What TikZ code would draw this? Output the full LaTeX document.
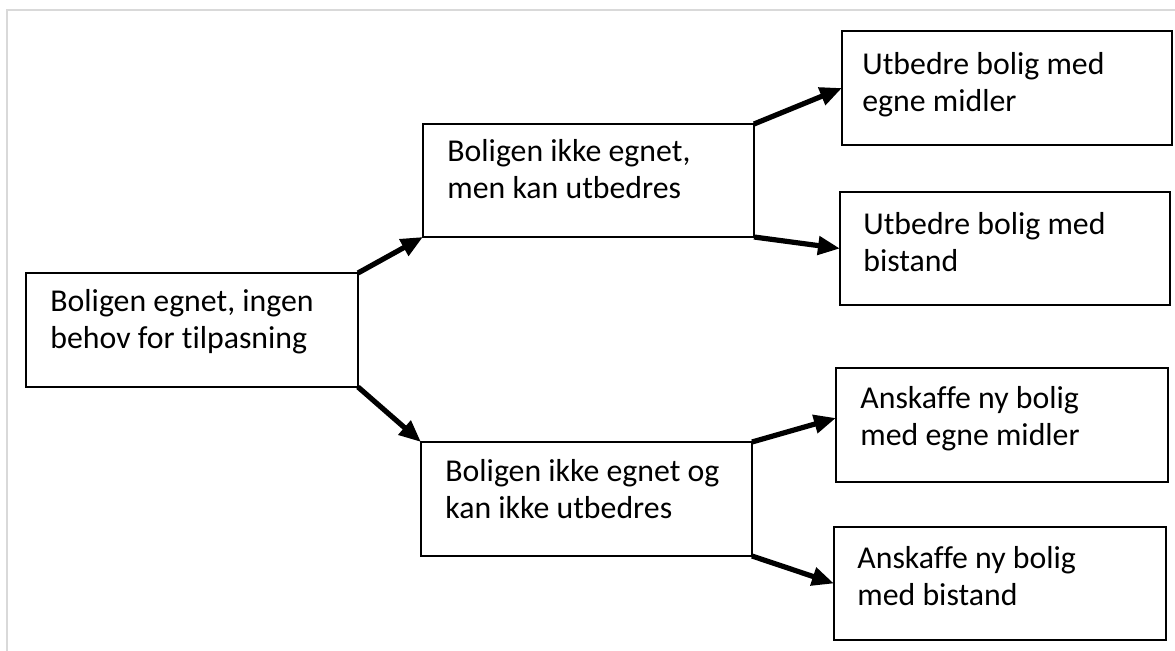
\documentclass[tikz,border=0pt]{standalone}
\usepackage{fontspec}
\setmainfont{Carlito}[Ligatures=NoCommon]
\usetikzlibrary{arrows.meta,calc}
\begin{document}
\begin{tikzpicture}[x=0.5pt,y=-0.5pt,
  box/.style={draw=black,line width=1.2pt,inner sep=0pt,outer sep=0pt,anchor=north west},
  txt/.style={inner sep=0pt,anchor=base west,font=\fontsize{15.9pt}{18.2pt}\selectfont},
  conn/.style={line width=2.6pt,-{Triangle[length=11pt,width=9pt]}},
  frame/.style={draw=black!15,line width=1pt}]
\useasboundingbox (0,0) rectangle (1175,651);
\draw[frame] (7,651) -- (7,10) -- (1175,10);
% boxes
\node[box,minimum width=166pt,minimum height=57pt] (A) at (26,273) {};
\node[box,minimum width=165.5pt,minimum height=56.5pt] (B) at (423,124) {};
\node[box,minimum width=165.5pt,minimum height=57pt] (C) at (421,442) {};
\node[box,minimum width=165pt,minimum height=57pt] (D) at (842,31) {};
\node[box,minimum width=165pt,minimum height=56.5pt] (E) at (840,192) {};
\node[box,minimum width=166pt,minimum height=57pt] (F) at (836,368) {};
\node[box,minimum width=166pt,minimum height=56.5pt] (G) at (834,527) {};
% texts
\node[txt] (At) at (50,312) {\parbox[t]{160pt}{Boligen egnet, ingen\\behov for tilpasning}};
\node[txt] (Bt) at (447,162) {\parbox[t]{160pt}{Boligen ikke egnet,\\men kan utbedres}};
\node[txt] (Ct) at (445,482) {\parbox[t]{160pt}{Boligen ikke egnet og\\kan ikke utbedres}};
\node[txt] (Dt) at (862,75) {\parbox[t]{160pt}{Utbedre bolig med\\egne midler}};
\node[txt] (Et) at (863,235) {\parbox[t]{160pt}{Utbedre bolig med\\bistand}};
\node[txt] (Ft) at (860,409) {\parbox[t]{160pt}{Anskaffe ny bolig\\med egne midler}};
\node[txt] (Gt) at (857,569) {\parbox[t]{160pt}{Anskaffe ny bolig\\med bistand}};
% connectors
\draw[conn] (A.north east) -- (B.south west);
\draw[conn] (A.south east) -- (C.north west);
\draw[conn] (B.north east) -- (D.west);
\draw[conn] (B.south east) -- (E.west);
\draw[conn] (C.north east) -- ($(F.west)+(0,-7)$);
\draw[conn] (C.south east) -- (G.west);
\end{tikzpicture}
\end{document}
